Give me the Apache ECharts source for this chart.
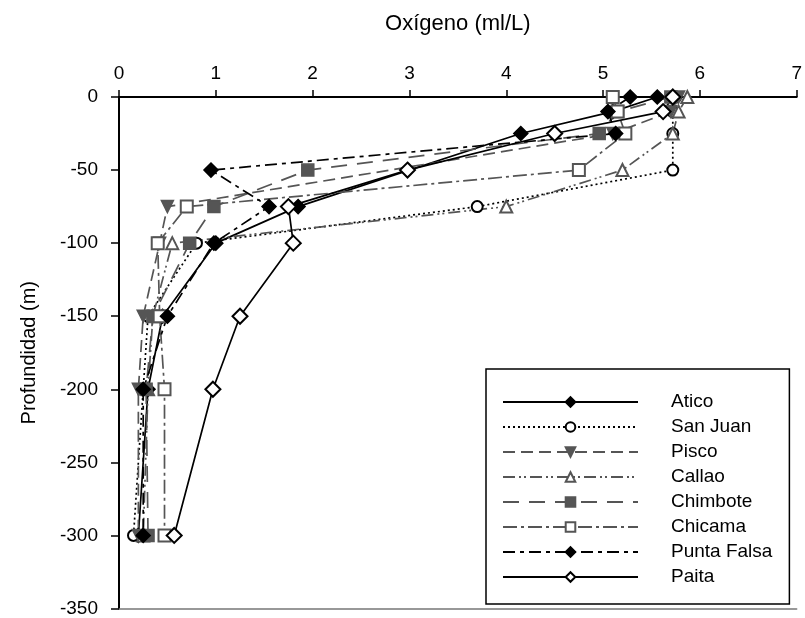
<!DOCTYPE html>
<html>
<head>
<meta charset="utf-8">
<script src="https://cdn.jsdelivr.net/npm/echarts@6/dist/echarts.min.js"></script>
<style>
html,body{margin:0;padding:0;background:#fff;}
#chart{width:805px;height:618px;}
</style>
</head>
<body>
<div id="chart"></div>
<script>
// Depth levels (m)
const depths = [0, -10, -25, -50, -75, -100, -150, -200, -300];
// Oxygen (ml/L) per station, aligned with depths (null = no sample)
const atico      = [5.56, 5.10, 4.15, null, 1.85, 1.00, 0.45, 0.30, 0.20];
const sanJuan    = [5.75, 5.72, 5.72, 5.72, 3.70, 0.80, 0.30, 0.25, 0.15];
const pisco      = [5.78, 5.70, 5.10, null, 0.50, 0.42, 0.25, 0.20, 0.20];
const callao     = [5.87, 5.78, 5.72, 5.20, 4.00, 0.55, 0.35, 0.30, 0.25];
const chimbote   = [5.70, 5.15, 4.96, 1.95, 0.98, 0.73, 0.35, 0.28, 0.30];
const chicama    = [5.10, 5.15, 5.23, 4.75, 0.70, 0.40, 0.42, 0.47, 0.47];
const puntaFalsa = [5.28, 5.05, 5.13, 0.95, 1.55, 0.98, 0.50, 0.25, 0.25];
const paita      = [5.72, 5.62, 4.50, 2.98, 1.75, 1.80, 1.25, 0.97, 0.57];
const xTicks = [0, 1, 2, 3, 4, 5, 6, 7];

function pairs(vals) {
  const out = [];
  vals.forEach((v, i) => { if (v !== null) out.push([v, depths[i]]); });
  return out;
}

const FONT = '"Liberation Sans", Arial, sans-serif';
const GRAY = '#555';

function mk(name, vals, color, lineType, symbol, size, extra) {
  return Object.assign({
    name: name,
    type: 'line',
    data: pairs(vals),
    symbol: symbol,
    symbolSize: size,
    lineStyle: { color: color, width: 1.7, type: lineType },
    itemStyle: { color: color, borderColor: color, borderWidth: 1.5 },
    emphasis: { disabled: true },
    animation: false
  }, extra || {});
}

const series = [
  mk('Atico', atico, '#000', 'solid', 'diamond', 14),
  mk('San Juan', sanJuan, '#000', [2, 3], 'emptyCircle', 11),
  mk('Pisco', pisco, GRAY, [12, 6], 'triangle', 12, { symbolRotate: 180 }),
  mk('Callao', callao, GRAY, [12, 4, 2, 3, 2, 4], 'emptyTriangle', 12),
  mk('Chimbote', chimbote, GRAY, [16, 10], 'rect', 12),
  mk('Chicama', chicama, GRAY, [14, 4, 3, 4], 'emptyRect', 12),
  mk('Punta Falsa', puntaFalsa, '#000', [12, 5, 4, 5], 'diamond', 14),
  mk('Paita', paita, '#000', 'solid', 'emptyDiamond', 15)
];

const chart = echarts.init(document.getElementById('chart'), null, { renderer: 'canvas' });
chart.setOption({
  backgroundColor: '#fff',
  animation: false,
  textStyle: { fontFamily: FONT },
  grid: { left: 119, right: -4, top: 97, bottom: 5, containLabel: false },
  xAxis: [{
    type: 'value',
    position: 'top',
    min: 0, max: 7, interval: 1,
    name: 'Oxígeno (ml/L)',
    nameLocation: 'middle',
    nameGap: 62,
    nameTextStyle: { fontSize: 22, color: '#000', fontFamily: FONT },
    axisLine: { show: true, onZero: false, lineStyle: { color: '#000', width: 2 } },
    axisTick: { show: true, length: 7, lineStyle: { color: '#000', width: 1.5 } },
    axisLabel: { fontSize: 19, color: '#000', margin: 14, fontFamily: FONT,
      formatter: v => (xTicks.indexOf(v) >= 0 ? String(v) : '') },
    splitLine: { show: false }
  }, {
    type: 'value',
    position: 'bottom',
    min: 0, max: 7,
    axisLine: { show: true, onZero: false, lineStyle: { color: '#777', width: 1.5 } },
    axisTick: { show: false },
    axisLabel: { show: false },
    splitLine: { show: false }
  }],
  yAxis: {
    type: 'value',
    min: -350, max: 0, interval: 50,
    name: 'Profundidad (m)',
    nameLocation: 'middle',
    nameGap: 80,
    nameTextStyle: { fontSize: 20, color: '#000', fontFamily: FONT },
    axisLine: { show: true, onZero: false, lineStyle: { color: '#000', width: 2 } },
    axisTick: { show: true, length: 8, lineStyle: { color: '#000', width: 1.5 } },
    axisLabel: { fontSize: 19, color: '#000', margin: 21, fontFamily: FONT },
    splitLine: { show: false }
  },
  legend: {
    show: true,
    orient: 'vertical',
    left: 486,
    top: 369,
    padding: [23, 17, 17, 16],
    itemGap: 5,
    itemWidth: 135,
    itemHeight: 12,
    backgroundColor: '#fff',
    borderColor: '#000',
    borderWidth: 1.5,
    borderRadius: 0,
    selectedMode: false,
    textStyle: { fontSize: 19, color: '#000', fontFamily: FONT, lineHeight: 20, padding: [0, 0, 0, 28] },
    data: ['Atico', 'San Juan', 'Pisco', 'Callao', 'Chimbote', 'Chicama', 'Punta Falsa', 'Paita']
  },
  series: series
});
</script>
</body>
</html>
